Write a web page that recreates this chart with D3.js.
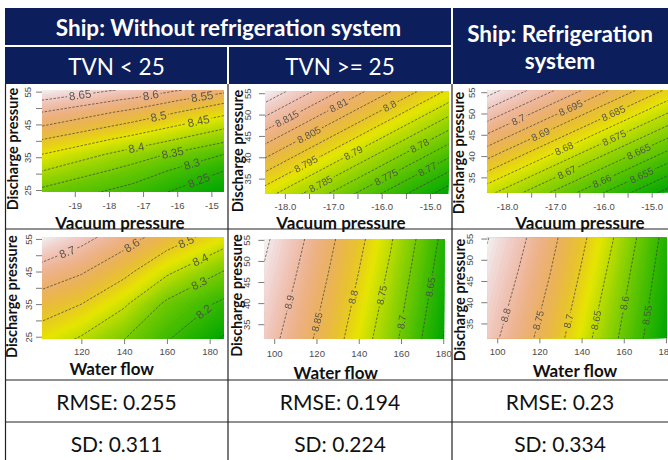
<!DOCTYPE html>
<html>
<head>
<meta charset="utf-8">
<script src="https://cdn.jsdelivr.net/npm/d3@7"></script>
<style>
  body { margin: 0; background: #fff; }
  svg { display: block; }
</style>
</head>
<body>
<svg id="chart" width="668" height="460"></svg>
<script>
// ---- table text ----
const groupTitles = ["Ship: Without refrigeration system", "Ship: Refrigeration", "system"];
const subTitles = ["TVN < 25", "TVN >= 25"];
const rmse = [0.255, 0.194, 0.23];
const sd = [0.311, 0.224, 0.334];

// ---- panel A: TVN < 25, vacuum vs discharge (rows = discharge, cols = vacuum) ----
const vacA = [-19.96, -17.3, -14.63];
const disA = [24.4, 30.8, 35.9, 40.4, 44.5, 48.75, 52.4, 55.5];
const zA = [
  [8.336, 8.28, 8.202],
  [8.40, 8.33, 8.25],
  [8.45, 8.378, 8.30],
  [8.50, 8.433, 8.362],
  [8.55, 8.485, 8.41],
  [8.60, 8.537, 8.463],
  [8.65, 8.59, 8.513],
  [8.692, 8.64, 8.565]
];
const levelsA = [8.2, 8.25, 8.3, 8.35, 8.4, 8.45, 8.5, 8.55, 8.6, 8.65, 8.7];

// ---- panel B: TVN >= 25, vacuum vs discharge ----
const vacB = [-18.41, -14.62];
const disB = [31.4, 55.4];
const zB = [
  [8.792, 8.757],
  [8.829, 8.794]
];
const levelsB = [8.76, 8.765, 8.77, 8.775, 8.78, 8.785, 8.79, 8.795, 8.8, 8.805, 8.81, 8.815, 8.82, 8.825];

// ---- panel C: refrigeration, vacuum vs discharge ----
const vacC = [-18.41, -14.62];
const disC = [31.4, 55.4];
const zC = [
  [8.6765, 8.6428],
  [8.7173, 8.6836]
];
const levelsC = [8.645, 8.65, 8.655, 8.66, 8.665, 8.67, 8.675, 8.68, 8.685, 8.69, 8.695, 8.7, 8.705, 8.71, 8.715];

// ---- panel D: TVN < 25, water flow vs discharge ----
const flowD = [101.6, 120, 140, 160, 186.7];
const disD = [24.3, 35, 45, 55.5];
const zD = [
  [8.45, 8.39, 8.302, 8.207, 8.09],
  [8.548, 8.50, 8.413, 8.281, 8.18],
  [8.663, 8.61, 8.525, 8.418, 8.297],
  [8.80, 8.732, 8.645, 8.551, 8.45]
];
const levelsD = [8.1, 8.2, 8.3, 8.4, 8.5, 8.6, 8.7, 8.8];

// ---- panel E: TVN >= 25, water flow vs discharge ----
const flowE = [95.3, 110, 125, 140, 155, 170, 180.5];
const disE = [31.5, 55.2];
const zE = [
  [8.923, 8.877, 8.829, 8.775, 8.718, 8.649, 8.597],
  [8.958, 8.915, 8.864, 8.812, 8.755, 8.687, 8.636]
];
const levelsE = [8.6, 8.65, 8.7, 8.75, 8.8, 8.85, 8.9, 8.95];

// ---- panel F: refrigeration, water flow vs discharge ----
const flowF = [95.3, 110, 125, 140, 155, 170, 180.5];
const disF = [31.5, 55.2];
const zF = [
  [8.817, 8.773, 8.726, 8.670, 8.610, 8.547, 8.499],
  [8.852, 8.813, 8.764, 8.710, 8.651, 8.582, 8.532]
];
const levelsF = [8.5, 8.55, 8.6, 8.65, 8.7, 8.75, 8.8, 8.85];

// ---- tick values ----
const vacTicksA = [-19, -18, -17, -16, -15];
const vacTicksBC = [-18, -17.5, -17, -16.5, -16, -15.5, -15];
const flowTicksD = [120, 140, 160, 180];
const flowTicksEF = [100, 120, 140, 160, 180];
const disTicks = [25, 30, 35, 40, 45, 50, 55];

const W = 668, H = 460;
const svg = d3.select("#chart");
const defs = svg.append("defs");
const navy = "#0c1e5b";

// R terrain.colors ramp: green -> yellow -> tan -> near white
function hsv(h, s, v) {
  const f = n => {
    const k = (n + h / 60) % 6;
    return v - v * s * Math.max(0, Math.min(k, 4 - k, 1));
  };
  return d3.rgb(f(5) * 255, f(3) * 255, f(1) * 255).formatHex();
}
function terrain(t) {
  if (t < 0.5) {
    const u = t / 0.5;
    return hsv(120 - 60 * u, 1, 0.65 + 0.25 * u);
  }
  const u = (t - 0.5) / 0.5;
  return hsv(60 - 60 * u, 1 - u, 0.9 + 0.05 * u);
}

// ---------- table ----------
const tbl = svg.append("g");
tbl.append("rect").attr("x", 5).attr("y", 8).attr("width", W - 5).attr("height", 76).attr("fill", navy);
tbl.append("line").attr("x1", 5).attr("x2", 452).attr("y1", 46).attr("y2", 46)
  .attr("stroke", "#fff").attr("stroke-width", 2);
tbl.append("line").attr("x1", 228).attr("x2", 228).attr("y1", 46).attr("y2", 84)
  .attr("stroke", "#fff").attr("stroke-width", 2);
tbl.append("line").attr("x1", 452).attr("x2", 452).attr("y1", 8).attr("y2", 84)
  .attr("stroke", "#fff").attr("stroke-width", 2);

[5.5, 228, 452].forEach(x => {
  tbl.append("line").attr("x1", x).attr("x2", x).attr("y1", 84).attr("y2", H)
    .attr("stroke", "#222").attr("stroke-width", 1.2);
});
[229, 380, 422].forEach(y => {
  tbl.append("line").attr("x1", 5).attr("x2", W).attr("y1", y).attr("y2", y)
    .attr("stroke", "#222").attr("stroke-width", 1.2);
});

function cellText(txt, x, y, opts) {
  tbl.append("text")
    .attr("x", x).attr("y", y)
    .attr("text-anchor", "middle")
    .attr("dominant-baseline", "central")
    .style("font-family", "Lato, 'Open Sans', sans-serif")
    .style("font-size", opts.size + "px")
    .style("font-weight", opts.bold ? "bold" : "normal")
    .style("fill", opts.color)
    .text(txt);
}
cellText(groupTitles[0], 228.5, 27, { size: 22.5, bold: true, color: "#fff" });
cellText(groupTitles[1], 560, 33, { size: 22.5, bold: true, color: "#fff" });
cellText(groupTitles[2], 560, 60, { size: 22.5, bold: true, color: "#fff" });
cellText(subTitles[0], 116.5, 66, { size: 22.5, bold: false, color: "#fff" });
cellText(subTitles[1], 340, 66, { size: 22.5, bold: false, color: "#fff" });

const colCenters = [116.5, 340, 560];
rmse.forEach((v, i) => cellText(`RMSE: ${v}`, colCenters[i], 401, { size: 21, bold: false, color: "#111" }));
sd.forEach((v, i) => cellText(`SD: ${v}`, colCenters[i], 443, { size: 21, bold: false, color: "#111" }));

// ---------- contour panels ----------
const fmtInt = d => String(d);
const fmtOne = d => d.toFixed(1);

const panels = [
  { id: "A", xs: vacA, ys: disA, z: zA, levels: levelsA, xTicks: vacTicksA, yTicks: disTicks,
    xFmt: fmtInt, xShow: () => true, yShow: d => (d - 25) % 10 === 0, xTitle: "Vacuum pressure",
    L: { x0: 42, x1: 224, y0: 90, y1: 192, yTickX: 28, xTickY: 206, xt: [120, 222.5], yt: [12, 149], fs: 11.5,
      labels: [[8.25, .55], [8.3, .74], [8.35, .72], [8.4, .52], [8.45, .86], [8.5, .64], [8.55, .88], [8.6, .78], [8.65, .52]] } },
  { id: "B", xs: vacB, ys: disB, z: zB, levels: levelsB, xTicks: vacTicksBC, yTicks: disTicks,
    xFmt: fmtOne, xShow: d => Number.isInteger(d), yShow: () => true, xTitle: "Vacuum pressure",
    L: { x0: 265, x1: 448.5, y0: 91.5, y1: 194, yTickX: 247.7, xTickY: 207, xt: [341, 222.5], yt: [237, 151], fs: 10,
      labels: [[8.815, .3], [8.81, .74], [8.805, .35], [8.8, .82], [8.795, .23], [8.79, .45], [8.785, .13], [8.78, .76], [8.775, .34], [8.77, .69]] } },
  { id: "C", xs: vacC, ys: disC, z: zC, levels: levelsC, xTicks: vacTicksBC, yTicks: disTicks,
    xFmt: fmtOne, xShow: d => Number.isInteger(d), yShow: () => true, xTitle: "Vacuum pressure",
    L: { x0: 487.3, x1: 670, y0: 90.5, y1: 192.7, yTickX: 471.5, xTickY: 206.5, xt: [580, 222.5], yt: [458.5, 153], fs: 10,
      labels: [[8.7, .33], [8.695, .69], [8.69, .36], [8.685, .72], [8.68, .42], [8.675, .68], [8.67, .3], [8.665, .74], [8.66, .27], [8.655, .57]] } },
  { id: "D", xs: flowD, ys: disD, z: zD, levels: levelsD, xTicks: flowTicksD, yTicks: disTicks,
    xFmt: fmtInt, xShow: () => true, yShow: d => (d - 25) % 10 === 0, xTitle: "Water flow",
    L: { x0: 42, x1: 224, y0: 237.3, y1: 339, yTickX: 28.3, xTickY: 351.5, xt: [111.7, 368.5], yt: [11.7, 296.7], fs: 11.5,
      labels: [[8.2, .64], [8.3, .77], [8.4, .85], [8.5, .94], [8.6, .87], [8.7, .45]] } },
  { id: "E", xs: flowE, ys: disE, z: zE, levels: levelsE, xTicks: flowTicksEF, yTicks: disTicks,
    xFmt: fmtInt, xShow: () => true, yShow: () => true, xTitle: "Water flow",
    L: { x0: 264.3, x1: 444.3, y0: 239, y1: 339, yTickX: 246.7, xTickY: 353.5, xt: [335.8, 372], yt: [236.2, 295.5], fs: 10,
      labels: [[8.65, .52], [8.7, .17], [8.75, .44], [8.8, .42], [8.85, .17], [8.9, .37]] } },
  { id: "F", xs: flowF, ys: disF, z: zF, levels: levelsF, xTicks: flowTicksEF, yTicks: disTicks,
    xFmt: fmtInt, xShow: () => true, yShow: () => true, xTitle: "Water flow",
    L: { x0: 487.3, x1: 667, y0: 237.7, y1: 338.3, yTickX: 470, xTickY: 352, xt: [575, 370.5], yt: [459, 300], fs: 10,
      labels: [[8.55, .23], [8.6, .35], [8.65, .18], [8.7, .17], [8.75, .18], [8.8, .23]] } }
];

// longest run of ring points lying inside the sampled area (the isoline itself)
function isoRun(geom, nx, ny) {
  const eps = 1e-6;
  const inside = p => p[0] >= 0.5 - eps && p[0] <= nx - 0.5 + eps && p[1] >= 0.5 - eps && p[1] <= ny - 0.5 + eps;
  let best = [];
  geom.coordinates.forEach(poly => poly.forEach(ring => {
    const pts = ring.slice(0, -1);
    const n = pts.length;
    const start = pts.findIndex(p => !inside(p));
    if (start < 0) return;
    let run = [];
    for (let k = 1; k <= n; k++) {
      const p = pts[(start + k) % n];
      if (inside(p)) run.push(p);
      else { if (run.length > best.length) best = run; run = []; }
    }
    if (run.length > best.length) best = run;
  }));
  return best;
}

function pointAt(line, f) {
  const segs = [];
  let total = 0;
  for (let i = 1; i < line.length; i++) {
    const l = Math.hypot(line[i][0] - line[i - 1][0], line[i][1] - line[i - 1][1]);
    segs.push(l);
    total += l;
  }
  let target = total * f;
  for (let i = 0; i < segs.length; i++) {
    if (target <= segs[i] || i === segs.length - 1) {
      const a = line[i], b = line[i + 1];
      const t = segs[i] ? Math.min(1, target / segs[i]) : 0;
      let ang = Math.atan2(b[1] - a[1], b[0] - a[0]) * 180 / Math.PI;
      if (ang > 90) ang -= 180;
      if (ang <= -90) ang += 180;
      return { x: a[0] + (b[0] - a[0]) * t, y: a[1] + (b[1] - a[1]) * t, ang };
    }
    target -= segs[i];
  }
  return null;
}

function drawPanel(p) {
  const L = p.L;
  const nx = p.xs.length, ny = p.ys.length;
  const x = d3.scaleLinear().domain([p.xs[0], p.xs[nx - 1]]).range([L.x0, L.x1]);
  const y = d3.scaleLinear().domain([p.ys[0], p.ys[ny - 1]]).range([L.y1, L.y0]);
  // grid coordinate (sample i sits at i + 0.5) -> screen
  const gx = d3.scaleLinear().domain(p.xs.map((_, i) => i + 0.5)).range(p.xs.map(x));
  const gy = d3.scaleLinear().domain(p.ys.map((_, j) => j + 0.5)).range(p.ys.map(y));
  const path = d3.geoPath(d3.geoTransform({
    point(a, b) { this.stream.point(gx(a), gy(b)); }
  }));

  const values = p.z.flat();
  const zmin = d3.min(values), zmax = d3.max(values);

  defs.append("clipPath").attr("id", "clip" + p.id)
    .append("rect").attr("x", L.x0).attr("y", L.y0)
    .attr("width", L.x1 - L.x0).attr("height", L.y1 - L.y0);

  const g = svg.append("g");
  const plot = g.append("g").attr("clip-path", `url(#clip${p.id})`);

  // colour image
  const nb = 70;
  const th = d3.range(nb).map(i => zmin + (zmax - zmin) * i / nb);
  const bands = d3.contours().size([nx, ny]).thresholds(th)(values);
  plot.append("g").selectAll("path")
    .data(bands)
    .join("path")
    .attr("d", path)
    .attr("fill", (d, i) => terrain((i + 0.5) / nb));

  // contour lines
  const iso = d3.contours().size([nx, ny]).thresholds(p.levels)(values);

  const maskId = "mask" + p.id;
  const mask = defs.append("mask").attr("id", maskId)
    .attr("maskUnits", "userSpaceOnUse")
    .attr("x", 0).attr("y", 0).attr("width", W).attr("height", H);
  mask.append("rect").attr("width", W).attr("height", H).attr("fill", "#fff");

  plot.append("g").attr("mask", `url(#${maskId})`)
    .selectAll("path")
    .data(iso)
    .join("path")
    .attr("d", path)
    .attr("fill", "none")
    .attr("stroke", "#3a3a3a")
    .attr("stroke-width", 0.8)
    .attr("stroke-dasharray", "2.5,1.5")
    .attr("opacity", 0.85);

  // contour labels
  const labG = plot.append("g");
  iso.forEach(c => {
    const hit = L.labels.find(l => Math.abs(l[0] - c.value) < 1e-6);
    if (!hit) return;
    let line = isoRun(c, nx, ny).map(q => [gx(q[0]), gy(q[1])]);
    if (line.length < 2) return;
    if (line[0][0] > line[line.length - 1][0]) line.reverse();
    const pt = pointAt(line, hit[1]);
    if (!pt) return;
    const tr = `translate(${pt.x},${pt.y}) rotate(${pt.ang})`;
    const txt = labG.append("text")
      .attr("transform", tr)
      .attr("text-anchor", "middle")
      .attr("dy", "0.35em")
      .style("font-family", "'Liberation Sans', Arial, sans-serif")
      .style("font-size", L.fs + "px")
      .style("fill", "#4a4a4a")
      .style("opacity", 0.9)
      .text(String(+c.value.toFixed(3)));
    const w = txt.node().getComputedTextLength();
    mask.append("rect")
      .attr("x", -w / 2 - 2).attr("y", -L.fs * 0.45)
      .attr("width", w + 4).attr("height", L.fs * 0.9)
      .attr("transform", tr)
      .attr("fill", "#000");
  });

  // axes
  const tickFont = "9.5px 'Liberation Sans', Arial, sans-serif";
  const xa = g.append("g")
    .attr("transform", `translate(0,${L.y1})`)
    .call(d3.axisBottom(x).tickValues(p.xTicks.filter(v => v >= p.xs[0] && v <= p.xs[nx - 1]))
      .tickSize(5).tickFormat(d => p.xShow(d) ? p.xFmt(d) : ""));
  xa.select(".domain").remove();
  xa.selectAll("line").attr("stroke", "#7a7a7a");
  xa.selectAll("text")
    .attr("y", L.xTickY - L.y1).attr("dy", "0.35em")
    .style("font", tickFont).style("fill", "#4d4d4d");

  const ya = g.append("g")
    .attr("transform", `translate(${L.x0},0)`)
    .call(d3.axisLeft(y).tickValues(p.yTicks.filter(v => v >= p.ys[0] && v <= p.ys[ny - 1]))
      .tickSize(6).tickFormat(d => p.yShow(d) ? String(d) : ""));
  ya.select(".domain").remove();
  ya.selectAll("line").attr("stroke", "#7a7a7a");
  ya.selectAll("text")
    .attr("transform", "rotate(-90)")
    .attr("x", 0).attr("y", -(L.x0 - L.yTickX)).attr("dy", "0.35em")
    .attr("text-anchor", "middle")
    .style("font", tickFont).style("fill", "#4d4d4d");

  // axis titles
  g.append("text")
    .attr("x", L.xt[0]).attr("y", L.xt[1])
    .attr("text-anchor", "middle").attr("dominant-baseline", "central")
    .style("font-family", "Lato, 'Open Sans', sans-serif")
    .style("font-weight", "bold").style("font-size", "17px").style("fill", "#111")
    .text(p.xTitle);
  g.append("text")
    .attr("transform", `translate(${L.yt[0]},${L.yt[1]}) rotate(-90)`)
    .attr("text-anchor", "middle").attr("dominant-baseline", "central")
    .style("font-family", "Lato, 'Open Sans', sans-serif")
    .style("font-weight", "bold").style("font-size", "14.5px").style("fill", "#111")
    .text("Discharge pressure");
}

panels.forEach(drawPanel);
</script>
</body>
</html>
